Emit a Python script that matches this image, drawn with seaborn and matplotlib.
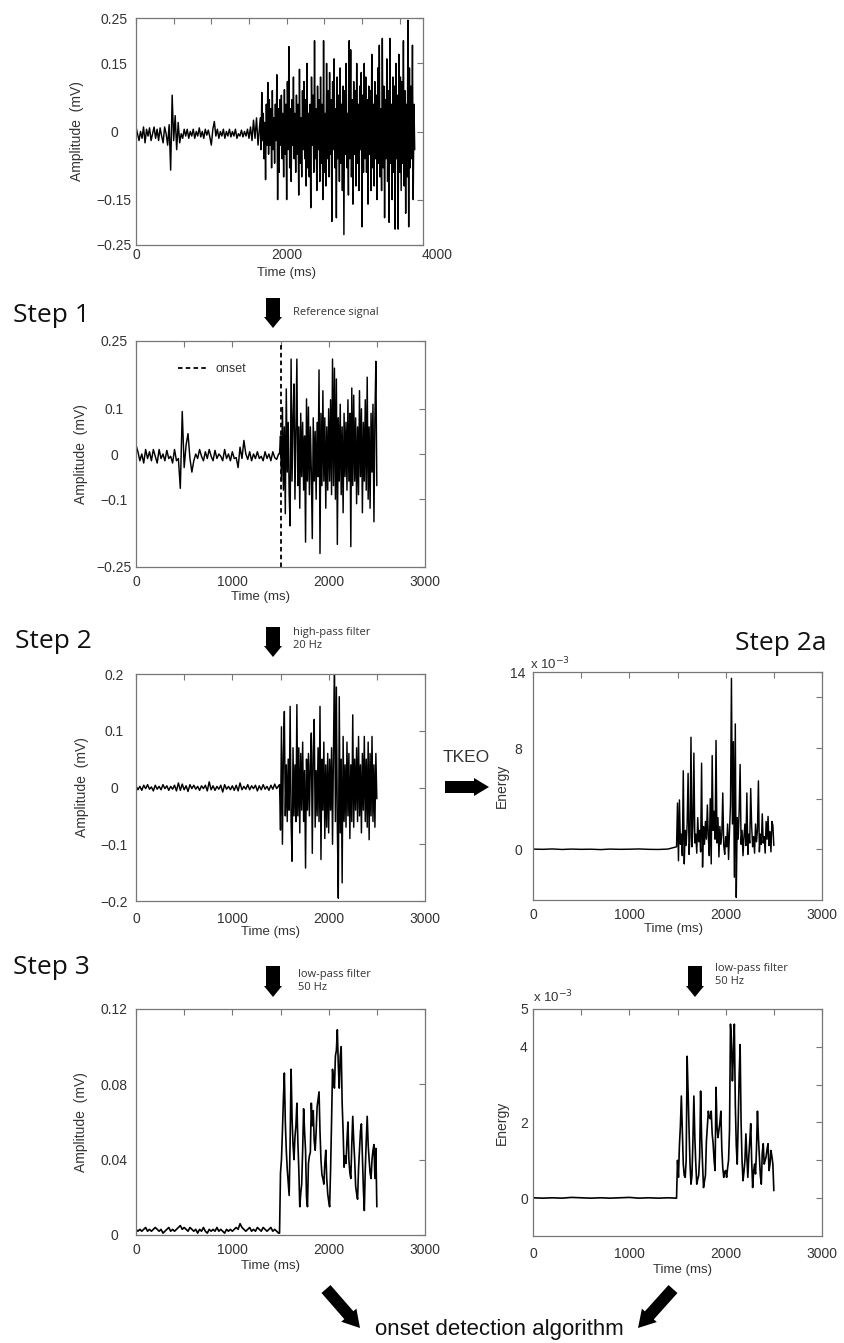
import numpy as np
import pandas as pd
import seaborn as sns
import matplotlib.pyplot as plt
import matplotlib.patches as mpatches
import matplotlib.transforms as mtransforms

# ---- data ---------------------------------------------------------------
# raw EMG (top panel), microvolts, baseline every 20 ms then burst every 10 ms
raw_base_start, raw_base_step = 0, 20
raw_base_uv = [10, -5, -20, 0, -15, 10, -25, 5, -10, 8,
               -20, -5, 10, -15, 5, -20, 8, -10, -25, 10,
               -5, -30, 15, -85, 80, -20, 35, -40, 20, -25,
               -5, -15, 5, -10, 5, -15, 0, -10, 5, -15,
               0, -10, 8, -12, 0, -15, 5, -8, 3, -12,
               -30, 5, 22, -10, 5, -15, 0, -10, 5, -15,
               0, -10, 5, -12, 0, -10, 5, -15, -5, -10,
               3, -12, 0, -10, 5, -15, 10, -20, 25, -15,
               30, -30, 10]
raw_burst_start, raw_burst_step = 1650, 10
raw_burst_uv = [30, -40, 86, -20, 40, -60, 20, -106, 60, -30,
                108, -50, 70, -30, 50, -80, 90, -40, 30, -70,
                60, -20, 125, -150, 50, -90, 70, -30, 80, -60,
                40, -100, 92, -50, 60, -150, 110, -40, 187, -80,
                50, -110, 70, -30, 120, -60, 40, -90, 80, -50,
                60, -140, 137, -70, 30, -100, 90, -40, 110, -60,
                70, -120, 150, -80, 40, -100, 60, -168, 120, -30,
                80, -90, 200, -60, 50, -130, 100, -40, 70, -110,
                120, -70, 60, -150, 200, -90, 40, -120, 150, -60,
                90, -100, 130, -50, 70, -198, 110, -40, 160, -80,
                50, -190, 120, -60, 80, -110, 140, -70, 60, -130,
                100, -227, 90, -50, 150, -80, 40, -140, 200, -60,
                180, -100, 70, -160, 110, -50, 90, -120, 150, -70,
                60, -130, 100, -40, 130, -210, 80, -90, 150, -60,
                120, -90, 70, -160, 100, -50, 90, -130, 170, -80,
                60, -120, 110, -60, 80, -150, 140, -70, 190, -100,
                50, -130, 205, -80, 100, -190, 70, -60, 160, -110,
                90, -200, 205, -70, 60, -150, 120, -90, 100, -215,
                150, -60, 80, -215, 170, -90, 120, -130, 110, -70,
                200, -120, 90, -180, 60, -100, 245, -210, 140, -80,
                100, -60, 190, -150, 60, -40]

# step 1: reference signal, microvolts
ref_base_start, ref_base_step = 0, 20
ref_base_uv = [20, 5, -15, 0, -20, 10, -10, 5, -15, 10,
               -5, -20, 10, -10, 0, -15, 8, -10, -5, -20,
               10, -15, -10, -76, 94, -30, 20, 45, -10, -40,
               -15, 0, -10, 10, -5, -15, 5, -10, 10, -5,
               -15, 8, -10, 0, -5, -15, 10, -10, 0, -15,
               5, -10, -8, -30, 15, -10, 30, 0, -12, 5,
               -15, 0, -10, 5, -10, -5, -15, 5, -10, 0,
               -15, 5, -8, -12, 0]
ref_burst_start, ref_burst_step = 1490, 10
ref_burst_uv = [0, 40, -60, 103, -80, 60, -132, 144, -40, 70,
                -90, -159, 210, -60, 80, 155, -100, 50, 210, -70,
                60, -120, 90, -50, 70, -80, 40, -195, 122, -60,
                104, -90, 60, -40, -187, 80, -60, 50, -100, 70,
                -50, 186, -220, 90, -70, 140, -60, 80, -120, 60,
                -80, 100, -60, 120, -90, 210, -70, 190, -100, 166,
                -200, 80, -60, 110, -90, 60, -130, 90, -50, 70,
                -80, 120, -60, 90, -205, 146, -70, 130, -60, 80,
                -110, 60, -90, 140, -50, 100, -130, 70, -60, 120,
                -80, 170, -100, 60, -120, 90, -40, 110, -150, 80,
                205, -70]
onset_ms = 1500

# step 2: high-pass 20 Hz, microvolts
hp_base_start, hp_base_step = 0, 20
hp_base_uv = [3, -4, 2, -5, 4, -2, 5, -3, 1, -6,
              4, -3, 2, -4, 5, -2, 3, -5, 2, -3,
              4, -6, 8, -5, 6, -4, 3, -7, 5, -2,
              4, -3, 2, -5, 3, -2, 4, -6, 10, -4,
              3, -5, 2, -3, 4, -8, 5, -3, 2, -4,
              3, -5, 4, -6, 8, -4, 2, -3, 5, -4,
              3, -2, 4, -6, 3, -4, 5, -3, 2, -5,
              4, -3, 6, -2, 3]
hp_burst_start, hp_burst_step = 1490, 10
hp_burst_uv = [5, -75, 107, -100, 60, 134, -50, 40, -60, 50,
               -40, 143, -60, -130, 70, -50, 40, -60, 146, -50,
               70, -80, 60, -40, 80, -60, 30, -142, 50, -40,
               60, -50, 40, 96, -116, 60, 120, -70, 30, -50,
               70, -60, 143, -127, 50, -40, 80, -90, 40, -70,
               60, -80, 50, -40, 70, -100, 60, 230, -60, 177,
               -70, -195, 160, -80, 50, -168, 90, -60, 40, -70,
               80, -50, 60, -90, 40, -60, 128, -70, 50, -40,
               70, -60, 90, -50, 40, -80, 60, -40, 90, -60,
               50, -70, 80, -92, 60, -50, 90, -60, 40, -70,
               60, -20]

# step 2a: TKEO energy, units of 1e-3
tk_base_start, tk_base_step = 0, 100
tk_base = [0.02, 0.0, 0.03, -0.01, 0.02, 0.0, 0.01, -0.02, 0.02, 0.0,
           0.01, 0.03, 0.0, -0.01, 0.02]
tk_burst_start, tk_burst_step = 1490, 10
tk_burst = [0.2, 3.65, -0.9, 3.9, 0.4, 1.2, -0.5, 6.2, -1.15, 1.5,
            0.3, 2.0, 6.0, -0.4, 1.0, 8.85, 0.2, 1.8, 7.6, 0.5,
            1.2, -0.3, 2.5, 0.6, 1.5, -0.2, 6.8, -1.4, 1.8, 0.4,
            2.2, 0.8, 3.5, 1.0, -0.5, 4.0, -1.15, 7.4, 1.5, 3.0,
            0.8, 8.6, 0.5, 2.5, -0.6, 1.8, 0.4, 1.2, 4.45, 0.3,
            -0.4, 1.0, 0.2, 2.0, -0.8, 1.5, 3.5, 13.5, 2.0, 8.5,
            -2.2, 9.9, -3.8, 2.5, 0.8, 3.0, 6.7, 0.4, 1.5, -0.5,
            1.0, 2.0, 0.3, 4.45, -0.4, 1.2, 0.5, 4.8, 1.8, 0.2,
            1.0, -0.3, 2.0, 0.6, 1.5, 5.4, -0.2, 1.2, 0.4, 2.8,
            0.5, 1.0, -0.3, 2.2, 0.8, 2.6, 0.3, 1.4, -0.2, 2.2,
            1.9, 0.3]

# step 3: low-pass 50 Hz of the filtered signal, microvolts
lp_base_start, lp_base_step = 0, 20
lp_base_uv = [3, 2, 3, 2, 3, 4, 2, 3, 2, 3,
              4, 3, 2, 3, 1, 2, 3, 4, 2, 3,
              2, 3, 4, 5, 3, 4, 3, 2, 4, 3,
              2, 3, 1, 3, 2, 4, 2, 1, 3, 2,
              3, 2, 4, 2, 3, 2, 1, 3, 2, 3,
              2, 3, 4, 3, 6, 4, 3, 2, 3, 4,
              2, 3, 2, 4, 3, 2, 4, 3, 2, 3,
              4, 2, 3, 2, 1]
lp_burst_start, lp_burst_step = 1490, 10
lp_burst_uv = [1, 33, 40, 55, 72, 86, 60, 45, 35, 28,
               21, 50, 88, 62, 48, 40, 52, 58, 70, 50,
               35, 15, 22, 27, 45, 67, 55, 45, 20, 15,
               38, 42, 44, 70, 58, 66, 50, 45, 55, 68,
               72, 76, 55, 40, 32, 30, 27, 38, 45, 30,
               22, 18, 15, 35, 60, 88, 82, 78, 95, 98,
               109, 90, 78, 95, 100, 70, 55, 36, 42, 38,
               50, 60, 40, 33, 30, 48, 63, 50, 40, 26,
               22, 19, 35, 45, 55, 59, 42, 25, 13, 35,
               50, 63, 48, 40, 33, 30, 40, 45, 48, 30,
               46, 15]

# step 3: low-pass 50 Hz of the TKEO, units of 1e-3
lpt_base_start, lpt_base_step = 0, 100
lpt_base = [0.01, 0.0, 0.01, 0.0, 0.02, 0.01, 0.0, 0.01, 0.0, 0.01,
            0.02, 0.0, 0.01, 0.0, 0.01]
lpt_burst_start, lpt_burst_step = 1490, 10
lpt_burst = [0.0, 1.0, 0.55, 1.4, 1.9, 2.7, 1.8, 0.9, 0.6, 0.55,
             1.0, 3.75, 2.8, 1.8, 0.9, 0.37, 0.6, 1.5, 2.7, 1.6,
             0.9, 0.37, 0.5, 0.6, 1.1, 2.83, 1.6, 0.9, 0.28, 0.45,
             0.6, 1.5, 1.9, 2.3, 2.15, 2.1, 2.3, 1.7, 1.44, 1.0,
             0.73, 2.93, 1.9, 1.6, 1.8, 2.0, 2.3, 1.3, 0.8, 0.55,
             0.7, 0.73, 0.55, 0.8, 1.0, 1.8, 4.6, 4.2, 3.1, 3.8,
             4.6, 2.5, 1.4, 0.9, 2.0, 3.2, 4.06, 2.0, 1.0, 0.46,
             0.7, 1.0, 1.7, 1.1, 0.55, 1.1, 1.5, 1.97, 1.0, 0.28,
             0.7, 0.9, 0.64, 1.3, 2.3, 1.6, 1.1, 0.6, 0.37, 1.2,
             1.44, 0.9, 1.0, 1.1, 1.3, 1.44, 0.73, 0.9, 1.26, 1.1,
             0.9, 0.2]

x_ticks_top = [0, 500, 1000, 1500, 2000, 2500, 3000, 3500]
x_labels_top = ['0', '', '', '', '2000', '', '', '']
x_ticks = [0, 500, 1000, 1500, 2000, 2500, 3000]
x_labels = ['0', '', '1000', '', '2000', '', '3000']


def series(start, step, values, scale=1.0):
    t = start + step * np.arange(len(values))
    return pd.DataFrame({'time': t, 'value': np.asarray(values, float) * scale})


def signal(base, burst):
    return pd.concat([base, burst], ignore_index=True)


raw = signal(series(raw_base_start, raw_base_step, raw_base_uv, 1e-3),
             series(raw_burst_start, raw_burst_step, raw_burst_uv, 1e-3))
ref = signal(series(ref_base_start, ref_base_step, ref_base_uv, 1e-3),
             series(ref_burst_start, ref_burst_step, ref_burst_uv, 1e-3))
hp = signal(series(hp_base_start, hp_base_step, hp_base_uv, 1e-3),
            series(hp_burst_start, hp_burst_step, hp_burst_uv, 1e-3))
tk = signal(series(tk_base_start, tk_base_step, tk_base),
            series(tk_burst_start, tk_burst_step, tk_burst))
lp = signal(series(lp_base_start, lp_base_step, lp_base_uv, 1e-3),
            series(lp_burst_start, lp_burst_step, lp_burst_uv, 1e-3))
lpt = signal(series(lpt_base_start, lpt_base_step, lpt_base),
             series(lpt_burst_start, lpt_burst_step, lpt_burst))

# ---- figure ---------------------------------------------------------------
sns.set_theme(style='white')
plt.rcParams['font.family'] = ['Liberation Sans', 'DejaVu Sans']

W, H = 844, 1343
fig = plt.figure(figsize=(W / 100, H / 100), dpi=100)
to_px = mtransforms.Affine2D().scale(0.01, -0.01).translate(0, H / 100) + fig.dpi_scale_trans

GREY = '#777777'
TXT = '#333333'


def add_ax(l, t, r, b):
    return fig.add_axes([l / W, 1 - b / H, (r - l) / W, (b - t) / H])


def draw(ax, df, lw=1.05):
    sns.lineplot(data=df, x='time', y='value', ax=ax, color='black',
                 linewidth=lw, estimator=None, errorbar=None, sort=False)


def style(ax, xlim, xt, xl, ylim, yt, yl, ypad, xpad, ylab, ylab_x, xlab_xy):
    ax.set_xlim(*xlim)
    ax.set_ylim(*ylim)
    ax.set_xticks(xt, labels=xl)
    ax.set_yticks(yt, labels=yl, ha='center')
    ax.tick_params(direction='in', length=4, width=0.8, color=GREY,
                   top=True, right=True, labelsize=10, labelcolor=TXT)
    ax.tick_params(axis='y', pad=ypad)
    ax.tick_params(axis='x', pad=xpad)
    for s in ax.spines.values():
        s.set_color(GREY)
        s.set_linewidth(0.9)
    ax.set_xlabel('Time (ms)', fontsize=9.5, color=TXT)
    ax.xaxis.set_label_coords(*xlab_xy)
    ax.set_ylabel(ylab, fontsize=10, color=TXT)
    ax.yaxis.set_label_coords(ylab_x, 0.5)


amp_ticks_25 = [-0.25, -0.15, 0, 0.15, 0.25]
amp_ticks_ref = [-0.25, -0.1, 0, 0.1, 0.25]

ax1 = add_ax(136, 18, 423, 245)
draw(ax1, raw)
style(ax1, (0, 3810), x_ticks_top, x_labels_top, (-0.25, 0.25), amp_ticks_25,
      ['\u22120.25', '\u22120.15', '0', '0.15', '0.25'], 15.8, 2,
      'Amplitude  (mV)', -0.181, (0.526, -0.095))
ax1.annotate('4000', xy=(4000, 0), xycoords=('data', 'axes fraction'),
             xytext=(0, -2), textcoords='offset points', ha='center', va='top',
             fontsize=10, color=TXT, annotation_clip=False)

ax2 = add_ax(136, 341, 425, 567)
draw(ax2, ref)
ax2.axvline(onset_ms, color='black', lw=1.3, ls=(0, (2.5, 1.8)), label='onset')
style(ax2, (0, 3000), x_ticks, x_labels, (-0.25, 0.25), amp_ticks_ref,
      ['\u22120.25', '\u22120.1', '0', '0.1', '0.25'], 15.8, 5.5,
      'Amplitude  (mV)', -0.166, (0.43, -0.105))
ax2.legend(loc='center left', bbox_to_anchor=(0.145, 0.876), frameon=False,
           fontsize=9, handlelength=2.3, handletextpad=0.7, borderpad=0,
           borderaxespad=0, labelcolor=TXT)

ax3 = add_ax(136, 674, 425, 901)
draw(ax3, hp)
style(ax3, (0, 3000), x_ticks, x_labels, (-0.2, 0.2), [-0.2, -0.1, 0, 0.1, 0.2],
      ['\u22120.2', '\u22120.1', '0', '0.1', '0.2'], 15.8, 8,
      'Amplitude  (mV)', -0.163, (0.465, -0.11))

ax4 = add_ax(533, 672, 822, 900)
draw(ax4, tk)
style(ax4, (0, 3000), x_ticks, x_labels, (-4, 14), [0, 4, 8, 12, 14],
      ['0', '', '8', '', '14'], 10.8, 5.5, 'Energy', -0.083, (0.485, -0.10))

ax5 = add_ax(136, 1009, 425, 1235)
draw(ax5, lp, lw=1.2)
style(ax5, (0, 3000), x_ticks, x_labels, (0, 0.12), [0, 0.04, 0.08, 0.12],
      ['0', '0.04', '0.08', '0.12'], 15.8, 5.5,
      'Amplitude  (mV)', -0.166, (0.465, -0.11))

ax6 = add_ax(533, 1009, 822, 1236)
draw(ax6, lpt, lw=1.2)
style(ax6, (0, 3000), x_ticks, x_labels, (-1, 5), [0, 1, 2, 3, 4, 5],
      ['0', '', '2', '', '4', '5'], 6.5, 8, 'Energy', -0.083, (0.517, -0.125))

# ---- annotations -------------------------------------------------------------
def ftext(x, y, s, **kw):
    fig.text(x, y, s, transform=to_px, **kw)


def arrow(x0, y0, x1, y1, body, head, head_len):
    fig.add_artist(mpatches.FancyArrow(x0, y0, x1 - x0, y1 - y0, width=body,
                                       head_width=head, head_length=head_len,
                                       length_includes_head=True, color='black',
                                       lw=0, transform=to_px))


step_kw = dict(family=['Open Sans', 'DejaVu Sans'], fontsize=19, color='#111111', va='center')
ftext(13, 316, 'Step 1', **step_kw)
ftext(15, 641, 'Step 2', **step_kw)
ftext(13, 967, 'Step 3', **step_kw)
ftext(735, 643, 'Step 2a', **step_kw)

note_kw = dict(family=['Open Sans', 'DejaVu Sans'], fontsize=8, color=TXT,
               va='center', linespacing=1.35)
ftext(293, 313, 'Reference signal', **note_kw)
ftext(293, 639, 'high-pass filter\n20 Hz', **note_kw)
ftext(298, 981, 'low-pass filter\n50 Hz', **note_kw)
ftext(715, 975, 'low-pass filter\n50 Hz', **note_kw)

ftext(443, 757, 'TKEO', fontsize=12.5, color=TXT, va='center')
ftext(530, 664, r'x 10$^{-3}$', fontsize=9.5, color=TXT, va='center')
ftext(533, 997, r'x 10$^{-3}$', fontsize=9.5, color=TXT, va='center')
ftext(499, 1330, 'onset detection algorithm', fontsize=16, color='#111111',
      ha='center', va='center')

arrow(273, 298, 273, 328, 14, 18, 11)
arrow(273, 627, 273, 657, 14, 18, 11)
arrow(273, 966, 273, 997, 14, 18, 11)
arrow(695, 966, 695, 997, 14, 18, 11)
arrow(445, 787, 489, 787, 12, 18, 15)
arrow(326, 1289, 360, 1328, 12, 20, 17)
arrow(673, 1289, 638, 1328, 12, 20, 17)

fig.savefig('out.png', dpi=100)
